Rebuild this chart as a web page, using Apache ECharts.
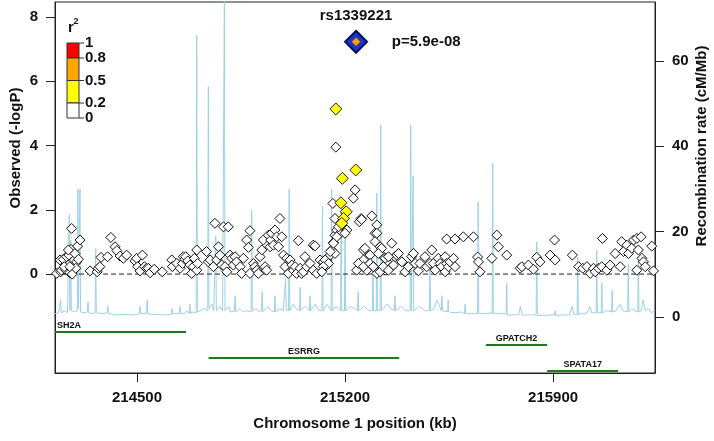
<!DOCTYPE html>
<html><head><meta charset="utf-8">
<script src="https://cdn.jsdelivr.net/npm/echarts@6/dist/echarts.min.js"></script>
<style>html,body{margin:0;padding:0;background:#fff}#c{width:714px;height:441px}</style>
</head><body><div id="c"></div>
<script>
// ---------- data ----------
const xTicks = [214500, 215200, 215900];
const leftTicks = [0, 2, 4, 6, 8];
const rightTicks = [0, 20, 40, 60];
const xRange = [214224, 216243];

// recombination rate (cM/Mb) at position (kb)
const recombData = [
[214224,0.8],[214236,1.0],[214241,1.2],[214243,4.0],[214245,1.0],[214258,1.5],[214266,1.0],[214270,1.2],[214272,24],[214274,1.5],[214276,1.2],[214277,18],[214279,1.5],[214290,1.2],[214299,1.5],[214301,30],[214303,2],[214306,2],[214308,30],[214310,1.2],[214325,1.0],[214333,1.2],[214335,3.5],[214337,1.0],[214350,0.8],[214359,1.0],[214361,16],[214363,1.0],[214380,0.8],[214400,1.0],[214402,2.5],[214404,0.8],[214430,0.5],[214460,0.6],[214490,0.5],[214508,0.8],[214510,2.5],[214512,0.8],[214532,0.8],[214534,4.0],[214536,0.8],[214560,0.6],[214590,0.5],[214616,0.6],[214618,2.0],[214620,0.8],[214643,0.8],[214645,2.5],[214647,0.8],[214662,0.9],[214668,1.5],[214676,0.8],[214678,3.0],[214680,0.9],[214690,1.2],[214699,1.0],[214701,66],[214703,1.2],[214715,1.5],[214725,2.0],[214738,1.5],[214740,54],[214742,2.0],[214752,3.0],[214758,1.5],[214763,1.5],[214765,19],[214767,1.5],[214778,2.5],[214788,1.5],[214792,1.2],[214794,75],[214796,1.5],[214808,2.5],[214815,1.2],[214828,1.5],[214830,5.0],[214832,1.2],[214845,2.0],[214858,1.2],[214870,1.5],[214884,1.2],[214886,25],[214888,1.5],[214900,2.0],[214912,1.2],[214919,1.5],[214921,6.0],[214923,1.2],[214940,2.5],[214950,1.5],[214962,1.2],[214964,5.0],[214966,1.2],[214980,2.0],[214992,1.5],[214998,1.5],[215000,9.0],[215002,1.5],[215006,1.2],[215010,1.5],[215012,30],[215014,1.5],[215025,3.0],[215035,2.0],[215047,1.5],[215049,7.0],[215051,1.5],[215065,2.5],[215080,1.5],[215082,5.0],[215084,1.5],[215100,3.0],[215112,1.5],[215122,1.5],[215124,26],[215126,1.5],[215140,3.0],[215153,1.5],[215155,30],[215157,1.5],[215170,2.5],[215185,1.5],[215187,27],[215189,1.5],[215198,1.5],[215200,22],[215202,1.5],[215220,2.5],[215242,1.5],[215244,6.0],[215246,1.5],[215265,2.5],[215280,1.5],[215292,1.5],[215294,12],[215296,1.5],[215305,1.5],[215307,29],[215309,1.5],[215318,1.5],[215320,45],[215322,1.5],[215340,3.0],[215355,2.0],[215366,1.5],[215368,5.0],[215370,1.5],[215390,2.5],[215405,1.5],[215419,1.5],[215421,45],[215423,1.5],[215427,1.5],[215429,33],[215431,1.5],[215450,2.5],[215470,1.5],[215484,1.5],[215486,12.6],[215488,1.5],[215500,2.0],[215510,4.0],[215524,1.5],[215526,5.0],[215528,1.5],[215545,1.2],[215547,4.0],[215549,1.2],[215570,1.0],[215590,1.2],[215602,0.8],[215604,3.0],[215606,0.8],[215625,0.8],[215646,0.8],[215648,27],[215650,0.8],[215670,0.8],[215685,1.0],[215695,0.8],[215697,36],[215699,0.8],[215720,0.8],[215742,0.8],[215744,8.0],[215746,0.5],[215770,0.5],[215785,0.6],[215790,2.5],[215793,2.5],[215796,0.5],[215815,0.5],[215835,0.5],[215843,0.6],[215845,17.6],[215847,0.4],[215870,0.4],[215895,0.5],[215905,0.5],[215907,1.5],[215909,0.4],[215935,0.5],[215955,0.5],[215964,2.5],[215970,0.6],[215981,0.6],[215983,14],[215985,0.6],[216000,0.8],[216015,1.0],[216024,2.5],[216030,1.0],[216045,1.0],[216047,15.7],[216049,1.0],[216062,1.0],[216064,8.0],[216066,1.0],[216080,1.5],[216097,1.2],[216099,6.3],[216101,1.2],[216112,1.5],[216125,3.0],[216135,1.5],[216151,1.2],[216153,12.4],[216155,1.2],[216165,2.0],[216175,1.5],[216185,1.2],[216187,13.4],[216189,1.2],[216197,1.5],[216203,4.0],[216210,1.5],[216220,2.0],[216230,1.0],[216243,1.5]
];

// SNPs with r2 < 0.2 : [position kb, -logP]
const snpLow = [
[214230,0.02],[214243,0.07],[214246,0.12],[214258,0.15],[214274,0.04],[214282,0.00],[214241,0.44],[214252,0.46],[214263,0.54],[214271,0.59],[214278,0.77],[214291,0.64],[214297,0.38],[214303,0.46],[214294,0.18],[214269,0.28],[214269,0.75],[214300,0.87],[214308,1.06],[214280,1.42],[214255,0.23],[214274,0.23],[214342,0.10],[214366,0.07],[214370,0.18],[214375,0.23],[214379,0.52],[214401,0.54],[214412,1.14],[214426,0.85],[214432,0.73],[214443,0.56],[214454,0.49],[214465,0.59],[214493,0.41],[214499,0.49],[214502,0.23],[214510,0.10],[214518,0.59],[214525,0.23],[214532,0.18],[214538,0.18],[214544,0.04],[214558,0.15],[214585,0.07],[214617,0.44],[214619,0.23],[214634,0.33],[214645,0.18],[214653,0.33],[214656,0.54],[214661,0.46],[214664,0.54],[214671,0.41],[214678,0.28],[214684,0.02],[214689,0.23],[214693,0.49],[214701,0.75],[214701,0.12],[214704,0.33],
[214734,0.70],[214740,0.38],[214746,0.44],[214757,0.23],[214762,1.58],[214768,0.44],[214774,0.85],[214779,0.59],[214785,0.28],[214791,1.47],[214796,0.23],[214802,0.07],[214807,1.47],[214813,0.59],[214819,0.49],[214824,0.28],[214830,0.54],[214835,0.38],[214847,0.23],[214852,0.02],[214858,0.49],[214869,1.06],[214875,0.83],[214880,1.35],[214880,0.02],[214892,0.33],[214897,0.23],[214903,0.12],[214908,0.02],[214914,0.54],[214920,0.75],[214925,1.06],[214931,0.23],[214936,0.12],[214942,1.21],[214948,0.85],[214950,1.06],[214953,1.27],[214959,0.90],[214964,1.37],[214970,1.16],[214976,0.85],[214981,1.73],[214987,1.16],[214993,0.59],[214998,0.23],[215004,0.49],[215009,0.02],[215015,0.44],[215021,0.28],[215026,0.12],[215032,0.23],[215037,0.02],[215043,1.04],[215049,0.18],[215054,0.02],[215060,0.07],[215065,0.54],[215071,0.23],[215082,0.33],[215093,0.12],[215093,0.90],[215099,0.88],[215105,0.02],[215116,0.44],[215127,0.38],[215133,0.23],[215138,0.44],[215150,0.59],[215155,0.75],[215161,0.98],[215166,1.21],[215172,1.37],[215183,1.27],[215194,1.47],[215206,1.37],
[215169,3.95],[215234,2.62],[215228,2.36],[215159,2.20],[215166,1.73],[215254,1.73],[215248,1.63],[215290,1.81],[215307,1.53],[215301,1.27],[215178,1.47],[215200,1.27],[215172,1.16],[215161,0.96],[215166,0.64],[215150,0.70],[215133,0.44],[215144,0.33],[215127,0.23],[215122,0.07],[215262,0.75],[215284,0.59],[215301,1.01],[215318,0.85],[215329,0.54],[215357,0.96],[215239,0.12],[215256,0.33],[215273,0.12],[215296,0.23],[215312,0.07],[215335,0.12],[215346,0.33],[215357,0.23],[215368,0.54],[215262,0.44],
[215256,1.70],[215307,1.27],[215267,0.80],[215323,0.80],[215312,0.64],[215335,0.49],[215374,0.59],[215380,0.64],[215346,0.54],[215245,0.33],[215262,0.23],[215284,0.33],[215295,0.23],[215307,0.02],[215318,0.07],[215329,0.23],[215346,0.12],[215363,0.28],[215391,0.38],[215402,0.07],[215413,0.23],[215424,0.54],[215430,0.64],[215436,0.33],[215447,0.10],[215452,0.33],[215469,0.54],[215475,0.23],[215486,0.33],[215492,0.75],[215497,0.33],[215503,0.12],[215514,0.49],[215520,0.33],[215525,0.23],[215537,0.54],[215537,0.07],[215542,0.33],[215548,0.23],[215553,0.38],[215565,0.49],[215570,0.23],[215542,1.09],[215570,1.09],[215598,1.16],[215632,1.16],[215646,0.53],[215649,0.38],[215654,0.07],[215694,0.49],[215711,1.21],[215716,0.85],
[215744,0.59],[215789,0.18],[215795,0.23],[215817,0.28],[215834,0.15],[215845,0.52],[215856,0.38],[215890,0.59],[215905,1.06],[215907,0.44],[215965,0.59],[215986,0.23],[216000,0.18],[216014,0.23],[216025,0.02],[216036,0.18],[216042,0.07],[216053,0.18],[216064,0.23],[216066,1.11],[216081,0.12],[216092,0.28],[216109,0.64],[216131,1.01],[216126,0.23],[216137,0.70],[216148,0.90],[216154,0.64],[216165,0.80],[216171,1.06],[216182,1.11],[216187,0.75],[216196,1.16],[216199,0.49],[216204,0.38],[216182,0.12],[216210,0.23],[216232,0.87],[216238,0.10]
];

// SNPs with 0.2 <= r2 < 0.5
const snpMid = [[215169,5.14],[215191,2.98],[215236,3.24],[215186,2.22],[215204,1.94],[215195,1.73],[215189,1.58]];

// lead SNP
const leadName = 'rs1339221';
const leadPos = 215237;
const leadLogP = 7.23;
const leadLabel = 'p=5.9e-08';

// genes
const geneNames = ['SH2A', 'ESRRG', 'GPATCH2', 'SPATA17'];
const geneStart = [213700, 214741, 215674, 215880];
const geneEnd = [214665, 215382, 215880, 216119];
const geneRow = [1, 3, 2, 4];

// r2 legend
const legendBreaks = [1, 0.8, 0.5, 0.2, 0];
const legendLabels = ['1', '0.8', '0.5', '0.2', '0'];
const legendColors = ['#ff0000', '#ffa500', '#ffff00', '#ffffff'];

// ---------- chart ----------
const FONT = '"Liberation Sans", Arial, Helvetica, sans-serif';
const TXT = '#111';
const chart = echarts.init(document.getElementById('c'), null, {renderer: 'canvas'});

const legendTop = 43, legendSpan = 75, legendX = 67, legendW = 12;
const legendEls = [];
for (let i = 0; i < legendColors.length; i++) {
  const y0 = legendTop + (1 - legendBreaks[i]) * legendSpan;
  const y1 = legendTop + (1 - legendBreaks[i + 1]) * legendSpan;
  legendEls.push({type: 'rect', shape: {x: legendX, y: y0, width: legendW, height: y1 - y0},
    style: {fill: legendColors[i], stroke: '#333', lineWidth: 1}});
}
legendBreaks.forEach((b, i) => {
  const y = legendTop + (1 - b) * legendSpan;
  legendEls.push({type: 'line', shape: {x1: legendX + legendW, y1: y, x2: legendX + legendW + 5, y2: y},
    style: {stroke: '#333', lineWidth: 1}});
  legendEls.push({type: 'text', x: legendX + legendW + 6, y: y,
    style: {text: legendLabels[i], font: 'bold 15px ' + FONT, fill: TXT, textAlign: 'left', textVerticalAlign: 'middle'}});
});
legendEls.push({type: 'text', x: 68, y: 35, style: {text: 'r', font: 'bold 15px ' + FONT, fill: TXT, textAlign: 'left', textVerticalAlign: 'bottom'}});
legendEls.push({type: 'text', x: 73.5, y: 26, style: {text: '2', font: 'bold 9px ' + FONT, fill: TXT, textAlign: 'left', textVerticalAlign: 'bottom'}});

const labelCommon = {fontSize: 15, fontWeight: 'bold', color: TXT, fontFamily: FONT, opacity: 1};
const ROW_GAP = 13, TRACK_BOTTOM_PAD = 2;

const option = {
  animation: false,
  backgroundColor: '#fff',
  grid: {left: 55, right: 59, top: 2, bottom: 68, show: true, borderColor: '#222', borderWidth: 1,
    backgroundColor: 'transparent'},
  xAxis: {
    type: 'value', min: xRange[0], max: xRange[1],
    axisLine: {show: true, onZero: false, lineStyle: {color: '#222', width: 1}}, splitLine: {show: false},
    axisTick: {show: true, customValues: xTicks, length: 9, lineStyle: {color: '#222', width: 1}},
    axisLabel: {customValues: xTicks, margin: 17, fontSize: 15, fontWeight: 'bold', color: TXT, fontFamily: FONT,
      formatter: v => String(v)}
  },
  yAxis: [
    {type: 'value', min: -3.08, max: 8.47,
      axisLine: {show: true, onZero: false, lineStyle: {color: '#222'}}, splitLine: {show: false},
      axisTick: {show: true, customValues: leftTicks, length: 9, lineStyle: {color: '#222'}},
      axisLabel: {customValues: leftTicks, margin: 17, fontSize: 15, fontWeight: 'bold', color: TXT, fontFamily: FONT}},
    {type: 'value', min: -13.1, max: 73.8, position: 'right',
      axisLine: {show: true, onZero: false, lineStyle: {color: '#222'}}, splitLine: {show: false},
      axisTick: {show: true, customValues: rightTicks, length: 9, lineStyle: {color: '#222'}},
      axisLabel: {customValues: rightTicks, margin: 17, fontSize: 15, fontWeight: 'bold', color: TXT, fontFamily: FONT}}
  ],
  series: [
    {type: 'line', yAxisIndex: 1, data: recombData, symbol: 'none', clip: true, z: 1,
      lineStyle: {color: '#9fd0e3', width: 1, opacity: 1}, silent: true},
    {type: 'line', yAxisIndex: 0, data: [[xRange[0], 0], [xRange[1], 0]], symbol: 'none', silent: true, z: 2,
      lineStyle: {type: [5, 3], color: '#222', width: 1, opacity: 1}},
    {type: 'scatter', yAxisIndex: 0, data: snpLow, symbol: 'diamond', symbolSize: 10, z: 3,
      itemStyle: {color: '#ffffff', borderColor: '#111', borderWidth: 1, opacity: 1}},
    {type: 'scatter', yAxisIndex: 0, data: snpMid, symbol: 'diamond', symbolSize: 12, z: 4,
      itemStyle: {color: '#ffff00', borderColor: '#222', borderWidth: 1, opacity: 1}},
    {type: 'scatter', yAxisIndex: 0, data: [[leadPos, leadLogP]], symbol: 'diamond', symbolSize: 22, z: 5,
      itemStyle: {color: '#1836c8', borderColor: '#0a0f5c', borderWidth: 2, opacity: 1},
      label: Object.assign({show: true, position: 'top', distance: 6, formatter: leadName}, labelCommon)},
    {type: 'scatter', yAxisIndex: 0, data: [[leadPos, leadLogP]], symbol: 'diamond', symbolSize: 9, z: 6,
      itemStyle: {color: '#f7a11c', borderColor: '#5a3a00', borderWidth: 0.6, opacity: 1},
      label: Object.assign({show: true, position: 'right', distance: 31, formatter: leadLabel}, labelCommon)},
    {type: 'custom', yAxisIndex: 0, z: 2, clip: false,
      data: geneNames.map((n, i) => [geneStart[i], geneEnd[i], geneRow[i]]),
      encode: {x: [0, 1]},
      renderItem: function (params, api) {
        const cs = params.coordSys;
        const p0 = api.coord([api.value(0), 0]);
        const p1 = api.coord([api.value(1), 0]);
        const row = api.value(2);
        const y = cs.y + cs.height - TRACK_BOTTOM_PAD - (4 - row) * ROW_GAP;
        const name = geneNames[params.dataIndex];
        const x0 = Math.max(p0[0], cs.x), x1 = Math.min(p1[0], cs.x + cs.width);
        let cx = (p0[0] + p1[0]) / 2, align = 'center';
        const half = name.length * 3.1;
        if (cx - half < cs.x + 1) { cx = cs.x + 2; align = 'left'; }
        else if (cx + half > cs.x + cs.width - 1) { cx = cs.x + cs.width - 2; align = 'right'; }
        return {type: 'group', children: [
          {type: 'line', shape: {x1: x0, y1: y, x2: x1, y2: y}, style: {stroke: '#1e7a1e', lineWidth: 2}},
          {type: 'text', x: cx, y: y - 2, style: {text: name, font: 'bold 9px ' + FONT, fill: TXT, textAlign: align, textVerticalAlign: 'bottom'}}
        ]};
      }}
  ],
  graphic: [
    {type: 'text', x: 16, y: 148, rotation: Math.PI / 2,
      style: {text: 'Observed (-logP)', font: 'bold 15px ' + FONT, fill: TXT, textAlign: 'center', textVerticalAlign: 'middle'}},
    {type: 'text', x: 702, y: 146, rotation: Math.PI / 2,
      style: {text: 'Recombination rate (cM/Mb)', font: 'bold 15px ' + FONT, fill: TXT, textAlign: 'center', textVerticalAlign: 'middle'}},
    {type: 'text', x: 355, y: 424,
      style: {text: 'Chromosome 1 position (kb)', font: 'bold 15px ' + FONT, fill: TXT, textAlign: 'center', textVerticalAlign: 'middle'}},
    {type: 'group', children: legendEls}
  ]
};
chart.setOption(option);
</script>
</body></html>
